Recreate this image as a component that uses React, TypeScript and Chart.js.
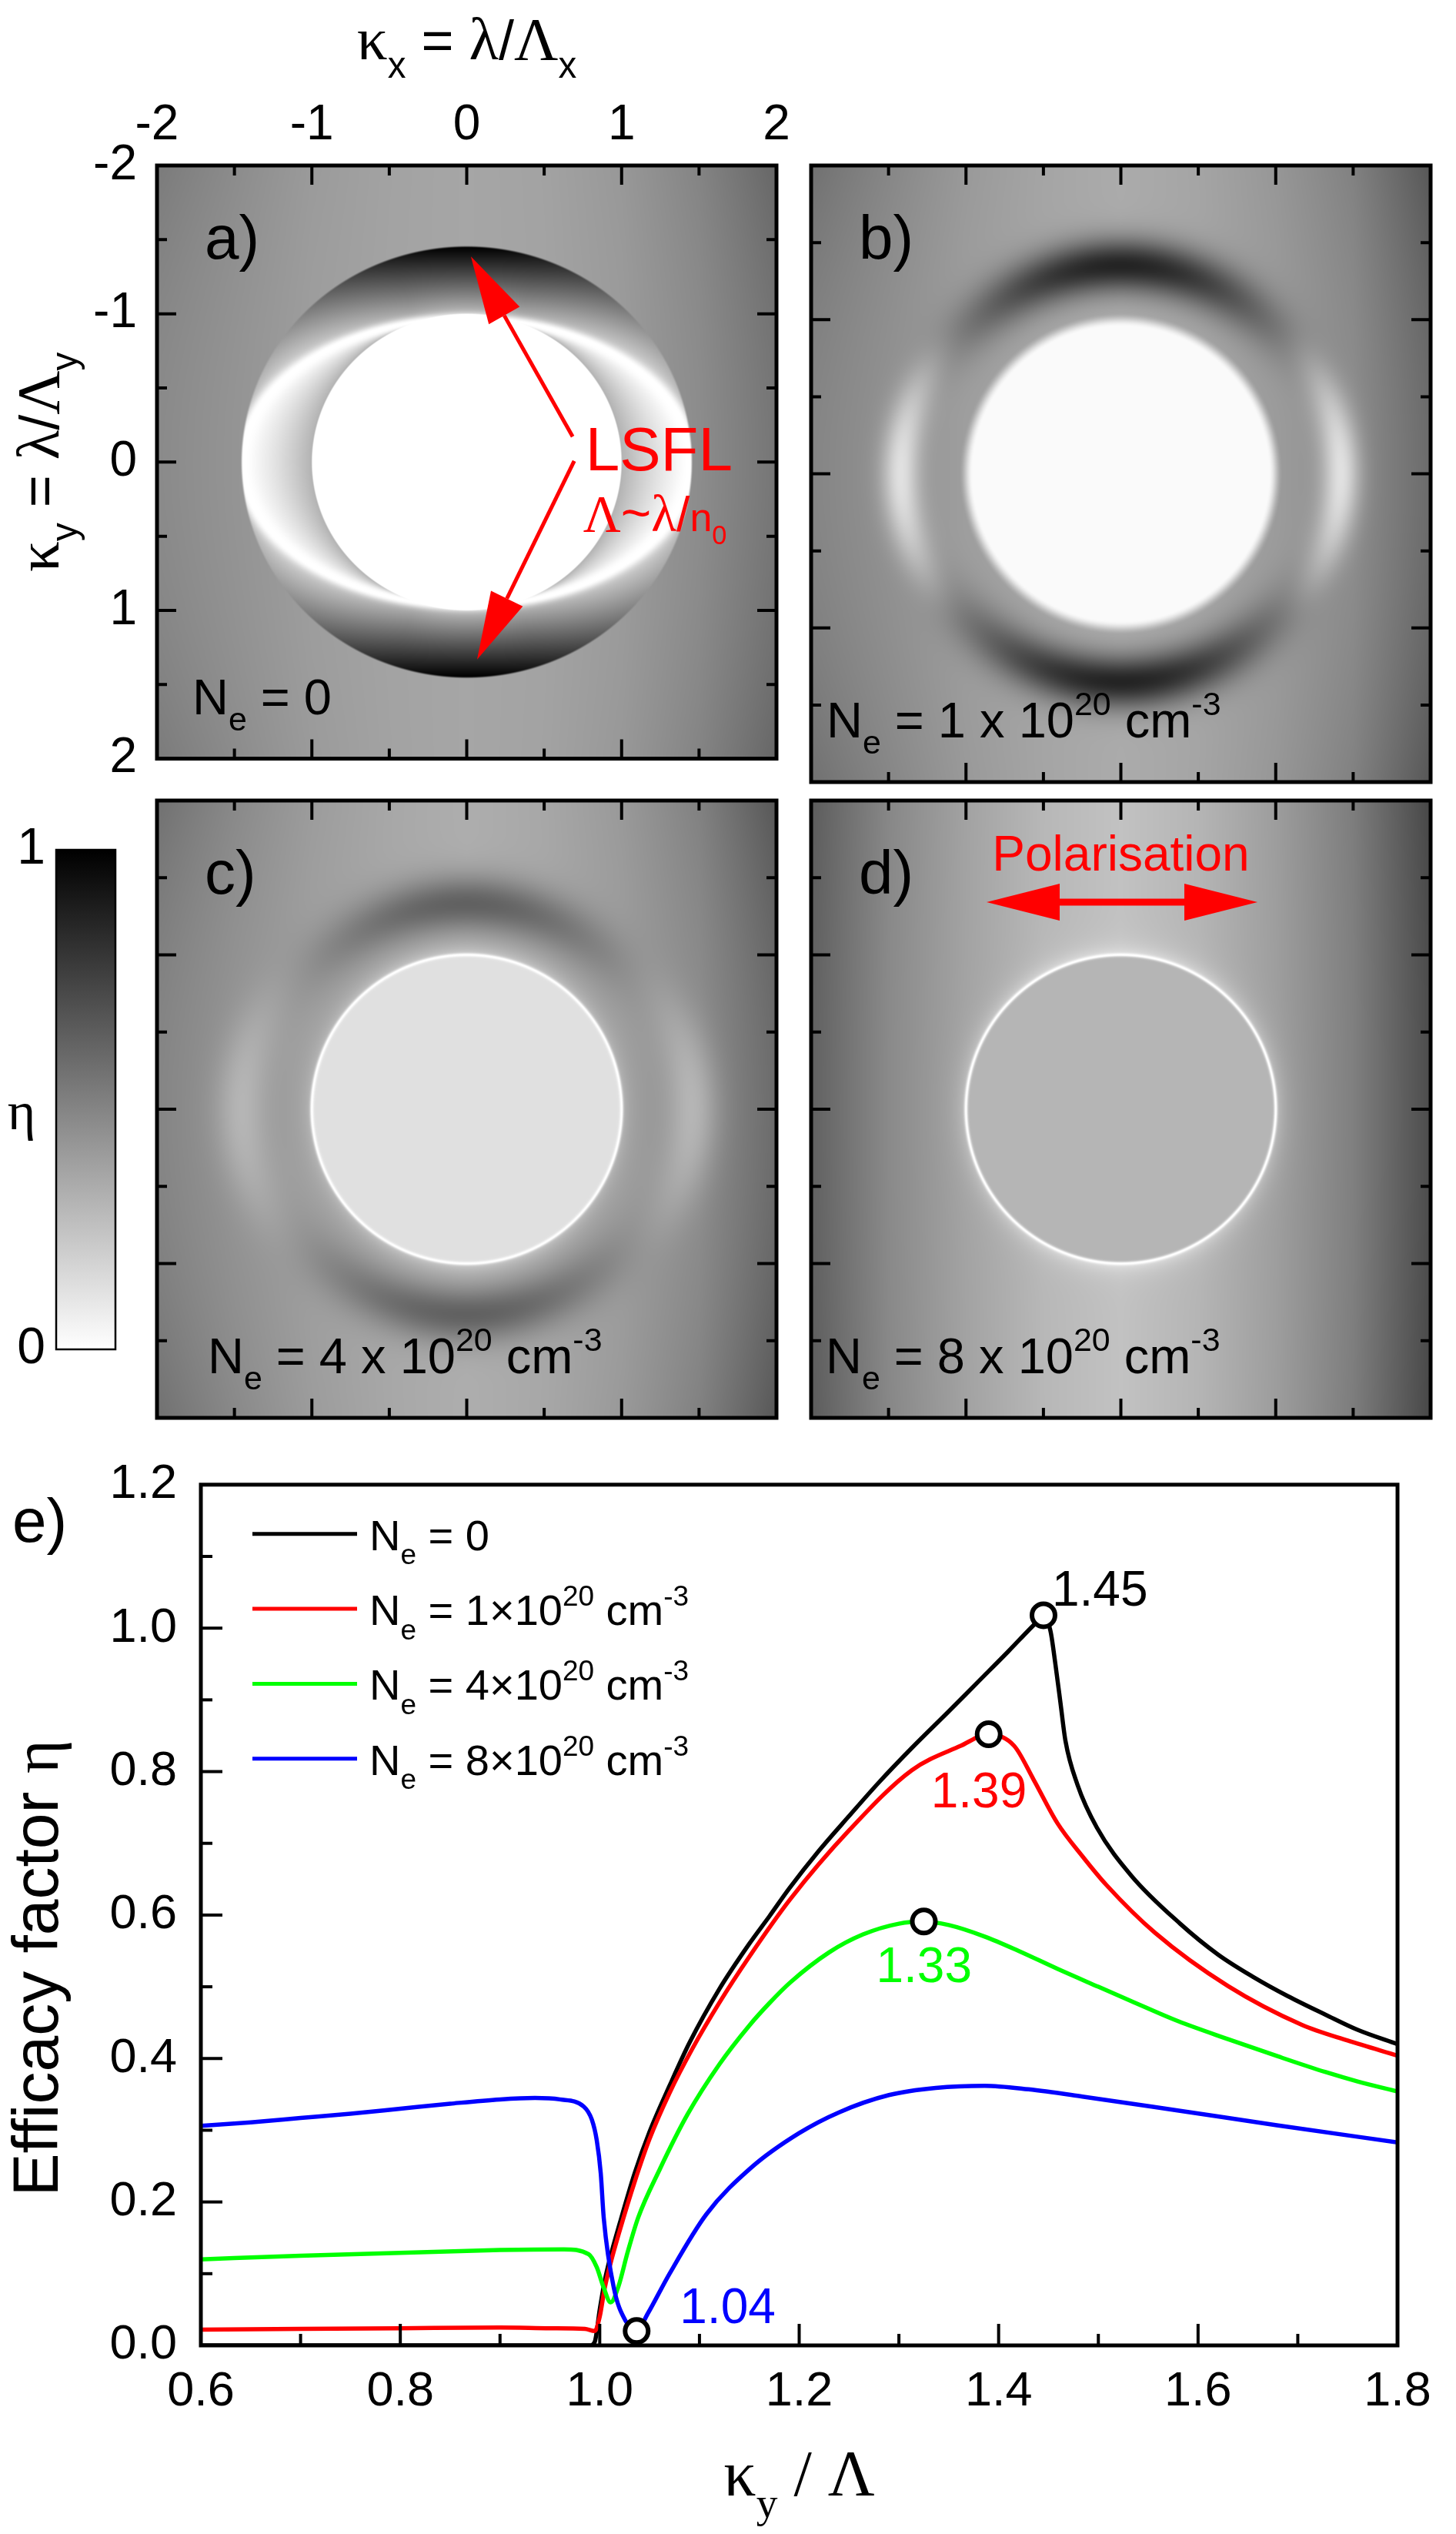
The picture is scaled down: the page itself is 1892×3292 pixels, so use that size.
import React, { useEffect, useRef } from 'react';
import { Chart, registerables } from 'chart.js';

Chart.register(...registerables);

const SANS = '"Liberation Sans", Arial, Helvetica, sans-serif';
const SERIF = '"Liberation Serif", "Times New Roman", serif';
Chart.defaults.font.family = SANS;
Chart.defaults.color = '#000';

// ---------------- Panel e: efficacy factor curves ----------------
const K_NE0 = [0.6, 0.7, 0.8, 0.9, 0.99, 0.995, 1.0, 1.005, 1.01, 1.02, 1.035, 1.05, 1.07, 1.09, 1.12, 1.15, 1.17, 1.19, 1.22, 1.25, 1.28, 1.313, 1.35, 1.38, 1.41, 1.43, 1.44, 1.445, 1.452, 1.457, 1.462, 1.467, 1.479, 1.4985, 1.533, 1.582, 1.62, 1.655, 1.69, 1.728, 1.76, 1.8];
const ETA_NE0 = [0, 0, 0, 0, 0, 0.005, 0.05, 0.09, 0.12, 0.17, 0.24, 0.298, 0.362, 0.422, 0.497, 0.56, 0.598, 0.637, 0.69, 0.738, 0.785, 0.833, 0.884, 0.926, 0.968, 0.997, 1.011, 1.018, 0.996, 0.949, 0.896, 0.843, 0.782, 0.722, 0.655, 0.588, 0.545, 0.514, 0.487, 0.461, 0.44, 0.42];

const K_NE1 = [0.6, 0.7, 0.8, 0.9, 0.95, 0.985, 0.995, 1.0, 1.005, 1.01, 1.02, 1.035, 1.05, 1.07, 1.093, 1.12, 1.15, 1.191, 1.25, 1.313, 1.362, 1.39, 1.4155, 1.435, 1.459, 1.484, 1.508, 1.557, 1.63, 1.704, 1.75, 1.8];
const ETA_NE1 = [0.022, 0.023, 0.024, 0.025, 0.024, 0.023, 0.02, 0.04, 0.08, 0.11, 0.16, 0.228, 0.288, 0.352, 0.414, 0.478, 0.542, 0.622, 0.718, 0.802, 0.836, 0.852, 0.836, 0.789, 0.728, 0.682, 0.642, 0.575, 0.501, 0.447, 0.425, 0.404];

const K_NE4 = [0.6, 0.7, 0.8, 0.9, 0.964, 0.989, 0.997, 1.0036, 1.011, 1.0187, 1.028, 1.0385, 1.06, 1.088, 1.12, 1.15, 1.17, 1.191, 1.23, 1.264, 1.3, 1.325, 1.35, 1.386, 1.42, 1.459, 1.5, 1.533, 1.58, 1.63, 1.68, 1.728, 1.76, 1.8];
const ETA_NE4 = [0.12, 0.125, 0.129, 0.133, 0.134, 0.127, 0.109, 0.082, 0.06, 0.082, 0.13, 0.178, 0.245, 0.322, 0.392, 0.446, 0.477, 0.506, 0.548, 0.573, 0.588, 0.591, 0.586, 0.57, 0.55, 0.525, 0.5, 0.48, 0.452, 0.427, 0.403, 0.381, 0.368, 0.354];

const K_NE8 = [0.6, 0.65, 0.7, 0.75, 0.8, 0.85, 0.9, 0.935, 0.96, 0.984, 0.992, 0.997, 1.001, 1.004, 1.014, 1.026, 1.037, 1.048, 1.07, 1.107, 1.152, 1.2, 1.24, 1.29, 1.337, 1.386, 1.43, 1.484, 1.582, 1.679, 1.8];
const ETA_NE8 = [0.306, 0.311, 0.317, 0.323, 0.33, 0.337, 0.343, 0.345, 0.343, 0.333, 0.315, 0.286, 0.24, 0.178, 0.081, 0.034, 0.02, 0.044, 0.1, 0.183, 0.248, 0.296, 0.325, 0.349, 0.359, 0.362, 0.357, 0.347, 0.327, 0.307, 0.283];

const SERIES_NE = ['0', '1', '4', '8'];
const SERIES_COLORS = ['#000000', '#ff0000', '#00ff00', '#0000ff'];

const PEAK_K = [1.445, 1.39, 1.325, 1.037];
const PEAK_ETA = [1.018, 0.852, 0.591, 0.02];
const PEAK_LABELS = ['1.45', '1.39', '1.33', '1.04'];

// ---------------- Panels a-d: efficacy maps (features) ----------------
const PANEL_LABELS = ['a)', 'b)', 'c)', 'd)'];
const PANEL_NE = ['0', '1', '4', '8'];
const HM_BG_KX = [0, 0.5, 1, 1.5, 2];
const HM_BG_LEFT = [
  [0.35, 0.36, 0.38, 0.42, 0.46],
  [0.33, 0.35, 0.38, 0.43, 0.48],
  [0.32, 0.34, 0.37, 0.42, 0.48],
  [0.24, 0.28, 0.36, 0.46, 0.62],
];
const HM_BG_RIGHT = [
  [0.35, 0.36, 0.39, 0.45, 0.54],
  [0.33, 0.35, 0.39, 0.45, 0.58],
  [0.32, 0.34, 0.38, 0.45, 0.58],
  [0.24, 0.29, 0.38, 0.5, 0.7],
];
const HM_BG_CORNER = [0.06, 0.08, 0.08, 0.02];
const HM_DISC_R = [1.0, 1.0, 1.0, 1.0];
const HM_DISC_ETA = [0.0, 0.02, 0.12, 0.29];
const HM_DISC_EDGE = [0.006, 0.045, 0.006, 0.006];
const HM_RIM = [0, 0, 1, 1];
const HM_RIM_W = [0.01, 0.01, 0.012, 0.012];
const HM_GLOW = [0, 0, 0.45, 0.55];
const HM_GLOW_LEN = [0.05, 0.05, 0.05, 0.06];
const HM_CRES_R = [1.45, 1.35, 1.33, 0];
const HM_CRES_W = [0, 0.17, 0.18, 0];
const HM_CRES_ETA = [1.0, 0.86, 0.62, 0];
const HM_CRES_SPREAD = [0, 75, 75, 0];
const HM_LOBE_R = [1.45, 1.42, 1.45, 0];
const HM_LOBE_W = [0.03, 0.12, 0.16, 0];
const HM_LOBE_ETA = [0, 0.12, 0.29, 0];
const HM_LOBE_SPREAD = [0, 45, 50, 0];
const HM_ELLIPSE = [1.45, 0.97];
const COLORBAR_ETA = [0, 1];

// ---------------- helpers ----------------
type Seg = { t: string; serif?: boolean; sub?: boolean; sup?: boolean; k?: number };

function drawRich(ctx: any, segs: Seg[], x: number, y: number, size: number, color: string, align = 'left') {
  ctx.save();
  ctx.fillStyle = color;
  ctx.textBaseline = 'alphabetic';
  ctx.textAlign = 'left';
  const fonts = segs.map((s) => {
    const sz = size * (s.k ?? 1) * (s.sub || s.sup ? 0.66 : 1);
    return `${sz}px ${s.serif ? SERIF : SANS}`;
  });
  let w = 0;
  segs.forEach((s, i) => {
    ctx.font = fonts[i];
    w += ctx.measureText(s.t).width;
  });
  let cx = align === 'center' ? x - w / 2 : align === 'right' ? x - w : x;
  segs.forEach((s, i) => {
    ctx.font = fonts[i];
    const dy = s.sub ? 0.33 * size : s.sup ? -0.45 * size : 0;
    ctx.fillText(s.t, cx, y + dy);
    cx += ctx.measureText(s.t).width;
  });
  ctx.restore();
}

function neSegs(v: string, times: string): Seg[] {
  if (v === '0') return [{ t: 'N' }, { t: 'e', sub: true }, { t: ' = 0' }];
  return [{ t: 'N' }, { t: 'e', sub: true }, { t: ` = ${v}${times}10` }, { t: '20', sup: true }, { t: ' cm' }, { t: '-3', sup: true }];
}

function interp(xs: number[], ys: number[], x: number) {
  if (x <= xs[0]) return ys[0];
  for (let i = 1; i < xs.length; i++) {
    if (x <= xs[i]) {
      const t = (x - xs[i - 1]) / (xs[i] - xs[i - 1]);
      return ys[i - 1] + t * (ys[i] - ys[i - 1]);
    }
  }
  return ys[ys.length - 1];
}

function smooth(a: number, b: number, x: number) {
  const t = Math.min(1, Math.max(0, (x - a) / (b - a)));
  return t * t * (3 - 2 * t);
}

function bgEta(p: number, kx: number, ky: number) {
  const base = interp(HM_BG_KX, kx < 0 ? HM_BG_LEFT[p] : HM_BG_RIGHT[p], Math.abs(kx));
  const cx = Math.min(1, Math.abs(kx) / 2);
  const cy = Math.min(1, Math.abs(ky) / 2);
  return base + HM_BG_CORNER[p] * cx * cx * cy * cy;
}

function etaA(kx: number, ky: number) {
  const bg = bgEta(0, kx, ky);
  const r = Math.hypot(kx, ky);
  const R0 = HM_DISC_R[0];
  const RO = HM_CRES_R[0];
  if (r < R0 - 0.006) return HM_DISC_ETA[0];
  const c = Math.abs(kx) / r;
  const s = Math.abs(ky) / r;
  const k = Math.sqrt((c / HM_ELLIPSE[0]) ** 2 + (s / HM_ELLIPSE[1]) ** 2);
  const q = r * k;
  let e: number;
  if (q <= 1) {
    const rout = 1 / k;
    const t = Math.min(1, Math.max(0, (r - R0) / Math.max(rout - R0, 1e-3)));
    e = 0.3 * Math.pow(1 - t, 1.3);
  } else {
    const rin = Math.max(R0, 1 / k);
    const t = Math.min(1, Math.max(0, (r - rin) / Math.max(RO - rin, 1e-3)));
    const peak = 0.25 + 0.75 * s * s * s;
    const base = 0.08 + 0.17 * s * s;
    e = base + (peak - base) * Math.pow(t, 0.9);
  }
  const d = q - 1;
  const g = Math.exp(-((d / (d > 0 ? 0.035 : 0.04)) ** 2));
  e *= 1 - g;
  e *= smooth(R0 - 0.006, R0 + 0.006, r);
  const wo = smooth(RO - 0.006, RO + 0.012, r);
  return e * (1 - wo) + bg * wo;
}

function etaGen(p: number, kx: number, ky: number) {
  let e = bgEta(p, kx, ky);
  const r = Math.hypot(kx, ky) || 1e-6;
  const phiV = (Math.atan2(Math.abs(kx), Math.abs(ky)) * 180) / Math.PI;
  const phiH = 90 - phiV;
  const s = Math.abs(ky) / r;
  if (HM_CRES_ETA[p] > 0) {
    const sp = HM_CRES_SPREAD[p];
    const wa = phiV < sp ? Math.cos(((Math.PI / 2) * phiV) / sp) ** 2 : 0;
    const wr = Math.exp(-(((r - HM_CRES_R[p]) / HM_CRES_W[p]) ** 2));
    e += (HM_CRES_ETA[p] - e) * wa * wr;
  }
  if (HM_LOBE_W[p] > 0) {
    const sp = HM_LOBE_SPREAD[p];
    const wa = phiH < sp ? Math.cos(((Math.PI / 2) * phiH) / sp) ** 2 : 0;
    const wr = Math.exp(-(((r - HM_LOBE_R[p]) / HM_LOBE_W[p]) ** 2));
    e += (HM_LOBE_ETA[p] - e) * wa * wr;
  }
  const R = HM_DISC_R[p];
  if (HM_GLOW[p] > 0 && r > R) {
    const gl = HM_GLOW[p] * (0.6 + 0.4 * s * s) * Math.exp(-(r - R) / HM_GLOW_LEN[p]);
    e *= 1 - gl;
  }
  const inside = 1 - smooth(R - HM_DISC_EDGE[p], R + HM_DISC_EDGE[p], r);
  e += (HM_DISC_ETA[p] - e) * inside;
  if (HM_RIM[p] > 0) {
    const rim = HM_RIM[p] * Math.exp(-(((r - R) / HM_RIM_W[p]) ** 2));
    e *= 1 - rim;
  }
  return e;
}

function arrowHead(ctx: any, x0: number, y0: number, x1: number, y1: number, len: number, half: number) {
  const a = Math.atan2(y1 - y0, x1 - x0);
  const bx = x1 - len * Math.cos(a);
  const by = y1 - len * Math.sin(a);
  ctx.beginPath();
  ctx.moveTo(x1, y1);
  ctx.lineTo(bx + half * Math.sin(a), by - half * Math.cos(a));
  ctx.lineTo(bx - half * Math.sin(a), by + half * Math.cos(a));
  ctx.closePath();
  ctx.fill();
  return [bx, by];
}

function minorValues(ticks: any[]) {
  const v = ticks.map((t: any) => t.value);
  const out: number[] = [];
  for (let i = 1; i < v.length; i++) out.push((v[i - 1] + v[i]) / 2);
  return out;
}

// ---------------- heatmap chart ----------------
const heatmapPlugin = (p: number) => ({
  id: 'heatmap',
  beforeDatasetsDraw(chart: any) {
    const { ctx, chartArea, scales } = chart;
    const x0 = Math.round(chartArea.left);
    const y0 = Math.round(chartArea.top);
    const w = Math.round(chartArea.right) - x0;
    const h = Math.round(chartArea.bottom) - y0;
    const img = ctx.createImageData(w, h);
    const kx = new Float64Array(w);
    const ky = new Float64Array(h);
    for (let i = 0; i < w; i++) kx[i] = scales.x.getValueForPixel(x0 + i + 0.5);
    for (let j = 0; j < h; j++) ky[j] = scales.y.getValueForPixel(y0 + j + 0.5);
    let o = 0;
    for (let j = 0; j < h; j++) {
      for (let i = 0; i < w; i++) {
        let e = p === 0 ? etaA(kx[i], ky[j]) : etaGen(p, kx[i], ky[j]);
        e = Math.min(1, Math.max(0, e));
        const g = Math.round(255 * (1 - e));
        img.data[o] = g;
        img.data[o + 1] = g;
        img.data[o + 2] = g;
        img.data[o + 3] = 255;
        o += 4;
      }
    }
    ctx.putImageData(img, x0, y0);
  },
});

const panelDecor = (p: number, neX: number) => ({
  id: 'panelDecor',
  afterDraw(chart: any) {
    const { ctx, chartArea, scales } = chart;
    const { left, top, right, bottom } = chartArea;
    const x = scales.x;
    const y = scales.y;
    ctx.save();
    ctx.strokeStyle = '#000';
    ctx.lineWidth = 4;
    const draw = (vals: number[], len: number) => {
      vals.forEach((v) => {
        if (v <= -2 || v >= 2) return;
        const px = x.getPixelForValue(v);
        const py = y.getPixelForValue(v);
        ctx.beginPath();
        ctx.moveTo(px, top); ctx.lineTo(px, top + len);
        ctx.moveTo(px, bottom); ctx.lineTo(px, bottom - len);
        ctx.moveTo(left, py); ctx.lineTo(left + len, py);
        ctx.moveTo(right, py); ctx.lineTo(right - len, py);
        ctx.stroke();
      });
    };
    draw(x.ticks.map((t: any) => t.value), 25);
    draw(minorValues(x.ticks), 13);
    ctx.lineWidth = 5;
    ctx.strokeRect(left, top, right - left, bottom - top);
    ctx.restore();

    drawRich(ctx, [{ t: PANEL_LABELS[p] }], left + 62, top + 121, 80, '#000');
    drawRich(ctx, neSegs(PANEL_NE[p], ' x '), left + neX, bottom - 58, 65, '#000');

    ctx.save();
    ctx.fillStyle = '#ff0000';
    ctx.strokeStyle = '#ff0000';
    if (p === 0) {
      const arrows = [
        [0.684, -0.172, 0.027, -1.386],
        [0.694, -0.007, 0.067, 1.331],
      ];
      arrows.forEach(([sx, sy, tx, ty]) => {
        const x0 = x.getPixelForValue(sx), y0 = y.getPixelForValue(sy);
        const x1 = x.getPixelForValue(tx), y1 = y.getPixelForValue(ty);
        const [bx, by] = arrowHead(ctx, x0, y0, x1, y1, 88, 23);
        ctx.lineWidth = 5;
        ctx.beginPath();
        ctx.moveTo(x0, y0);
        ctx.lineTo(bx, by);
        ctx.stroke();
      });
      drawRich(ctx, [{ t: 'LSFL' }], x.getPixelForValue(0.766), y.getPixelForValue(0.057), 80, '#ff0000');
      drawRich(
        ctx,
        [{ t: 'Λ', serif: true, k: 1.3 }, { t: '~', k: 1.3 }, { t: 'λ', serif: true, k: 1.3 }, { t: '/', k: 1.2 }, { t: 'n' }, { t: '0', sub: true }],
        x.getPixelForValue(0.752),
        y.getPixelForValue(0.467),
        52,
        '#ff0000'
      );
    }
    if (p === 3) {
      const yy = y.getPixelForValue(-1.342);
      const xa = x.getPixelForValue(-0.867);
      const xb = x.getPixelForValue(0.882);
      const [b1] = arrowHead(ctx, xb, yy, xa, yy, 95, 24);
      const [b2] = arrowHead(ctx, xa, yy, xb, yy, 95, 24);
      ctx.lineWidth = 9;
      ctx.beginPath();
      ctx.moveTo(b1, yy);
      ctx.lineTo(b2, yy);
      ctx.stroke();
      drawRich(ctx, [{ t: 'Polarisation' }], x.getPixelForValue(0), y.getPixelForValue(-1.546), 64, '#ff0000', 'center');
    }
    ctx.restore();

    if (p === 0) {
      drawRich(
        ctx,
        [{ t: 'κ', serif: true, k: 1.1 }, { t: 'x', sub: true }, { t: ' = ' }, { t: 'λ', serif: true, k: 1.1 }, { t: '/' }, { t: 'Λ', serif: true, k: 1.1 }, { t: 'x', sub: true }],
        (left + right) / 2,
        77,
        72,
        '#000',
        'center'
      );
      ctx.save();
      ctx.translate(76, (top + bottom) / 2);
      ctx.rotate(-Math.PI / 2);
      drawRich(
        ctx,
        [{ t: 'κ', serif: true, k: 1.1 }, { t: 'y', sub: true }, { t: ' = ' }, { t: 'λ', serif: true, k: 1.1 }, { t: '/' }, { t: 'Λ', serif: true, k: 1.1 }, { t: 'y', sub: true }],
        0,
        0,
        72,
        '#000',
        'center'
      );
      ctx.restore();
    }
  },
});

function makeHeatmap(canvas: HTMLCanvasElement, p: number, w: number, h: number, area: any, labels: boolean, neX: number) {
  return new Chart(canvas, {
    type: 'scatter',
    data: { datasets: [] },
    options: {
      animation: false,
      responsive: false,
      devicePixelRatio: 1,
      events: [],
      layout: { padding: { left: 0, top: 0, right: w - area.r, bottom: h - area.b } },
      plugins: { legend: { display: false }, tooltip: { enabled: false } },
      scales: {
        x: {
          type: 'linear',
          position: 'top',
          min: -2,
          max: 2,
          ticks: { stepSize: 1, display: labels, font: { size: 64, family: SANS }, color: '#000', padding: 13, maxRotation: 0 },
          grid: { display: false, drawTicks: false, tickLength: 0 },
          border: { display: false },
          afterFit: (s: any) => { s.height = area.t; },
        },
        y: {
          type: 'linear',
          position: 'left',
          reverse: true,
          min: -2,
          max: 2,
          ticks: { stepSize: 1, display: labels, font: { size: 64, family: SANS }, color: '#000', padding: 26 },
          grid: { display: false, drawTicks: false, tickLength: 0 },
          border: { display: false },
          afterFit: (s: any) => { s.width = area.l; },
        },
      },
    } as any,
    plugins: [heatmapPlugin(p), panelDecor(p, neX)],
  });
}

// ---------------- colorbar ----------------
const colorbarPlugin = {
  id: 'colorbar',
  beforeDatasetsDraw(chart: any) {
    const { ctx, chartArea, scales } = chart;
    const { left, right } = chartArea;
    const y = scales.y;
    const y0 = y.getPixelForValue(COLORBAR_ETA[0]);
    const y1 = y.getPixelForValue(COLORBAR_ETA[1]);
    const grad = ctx.createLinearGradient(0, y0, 0, y1);
    grad.addColorStop(0, '#ffffff');
    grad.addColorStop(1, '#000000');
    ctx.save();
    ctx.fillStyle = grad;
    ctx.fillRect(left, y1, right - left, y0 - y1);
    ctx.lineWidth = 2.5;
    ctx.strokeStyle = '#000';
    ctx.strokeRect(left, y1, right - left, y0 - y1);
    ctx.restore();
    drawRich(ctx, [{ t: 'η', serif: true }], 28, (y0 + y1) / 2 + 38, 70, '#000', 'center');
  },
};

function makeColorbar(canvas: HTMLCanvasElement, w: number, h: number, area: any) {
  return new Chart(canvas, {
    type: 'scatter',
    data: { datasets: [] },
    options: {
      animation: false,
      responsive: false,
      devicePixelRatio: 1,
      events: [],
      layout: { padding: { left: 0, top: area.t, right: w - area.r, bottom: h - area.b } },
      plugins: { legend: { display: false }, tooltip: { enabled: false } },
      scales: {
        x: { type: 'linear', display: false, min: 0, max: 1 },
        y: {
          type: 'linear',
          position: 'left',
          min: 0,
          max: 1,
          ticks: { stepSize: 1, font: { size: 66, family: SANS }, color: '#000', padding: 14, callback: (v: any) => String(v) },
          grid: { display: false, drawTicks: false, tickLength: 0 },
          border: { display: false },
          afterFit: (s: any) => { s.width = area.l; },
        },
      },
    } as any,
    plugins: [colorbarPlugin],
  });
}

// ---------------- panel e chart ----------------
const LABEL_DX = [11, -75, -62, 56];
const LABEL_DY = [-12, 95, 79, -10];

const eDecor = {
  id: 'eDecor',
  afterDraw(chart: any) {
    const { ctx, chartArea, scales } = chart;
    const { left, top, right, bottom } = chartArea;
    const x = scales.x;
    const y = scales.y;
    ctx.save();
    ctx.strokeStyle = '#000';
    ctx.lineWidth = 4;
    const xt = (vals: number[], len: number) =>
      vals.forEach((v) => {
        const px = x.getPixelForValue(v);
        if (px <= left + 1 || px >= right - 1) return;
        ctx.beginPath(); ctx.moveTo(px, bottom); ctx.lineTo(px, bottom - len); ctx.stroke();
      });
    const yt = (vals: number[], len: number) =>
      vals.forEach((v) => {
        const py = y.getPixelForValue(v);
        if (py <= top + 1 || py >= bottom - 1) return;
        ctx.beginPath(); ctx.moveTo(left, py); ctx.lineTo(left + len, py); ctx.stroke();
      });
    xt(x.ticks.map((t: any) => t.value), 28);
    xt(minorValues(x.ticks), 15);
    yt(y.ticks.map((t: any) => t.value), 28);
    yt(minorValues(y.ticks), 15);
    ctx.lineWidth = 5;
    ctx.strokeRect(left, top, right - left, bottom - top);
    ctx.restore();

    SERIES_NE.forEach((ne, i) => {
      const ry = top + 64 + i * 97.3;
      ctx.save();
      ctx.strokeStyle = SERIES_COLORS[i];
      ctx.lineWidth = 5;
      ctx.beginPath();
      ctx.moveTo(left + 67, ry);
      ctx.lineTo(left + 203, ry);
      ctx.stroke();
      ctx.restore();
      drawRich(ctx, neSegs(ne, '×'), left + 219, ry + 21, 56, '#000');
    });

    PEAK_LABELS.forEach((lab, i) => {
      const px = x.getPixelForValue(PEAK_K[i]);
      const py = y.getPixelForValue(PEAK_ETA[i]);
      drawRich(ctx, [{ t: lab }], px + LABEL_DX[i], py + LABEL_DY[i], 64, SERIES_COLORS[i]);
    });

    drawRich(ctx, [{ t: 'e)' }], 16, top + 74, 80, '#000');

    ctx.save();
    ctx.translate(75, top + 628);
    ctx.rotate(-Math.PI / 2);
    drawRich(ctx, [{ t: 'Efficacy factor ' }, { t: 'η', serif: true }], 0, 0, 84, '#000', 'center');
    ctx.restore();

    drawRich(
      ctx,
      [{ t: 'κ', serif: true }, { t: 'y', serif: true, sub: true }, { t: ' / Λ', serif: true }],
      (left + right) / 2,
      bottom + 195,
      84,
      '#000',
      'center'
    );
  },
};

function series(ks: number[], etas: number[]) {
  return ks.map((k, i) => ({ x: k, y: etas[i] }));
}

function makeLineChart(canvas: HTMLCanvasElement, w: number, h: number, area: any) {
  const lineDs = (label: string, ks: number[], etas: number[], color: string, order: number) => ({
    label,
    data: series(ks, etas),
    borderColor: color,
    backgroundColor: color,
    borderWidth: 5.5,
    pointRadius: 0,
    fill: false,
    order,
    cubicInterpolationMode: 'monotone',
  });
  return new Chart(canvas, {
    type: 'line',
    data: {
      datasets: [
        {
          label: 'peaks',
          data: series(PEAK_K, PEAK_ETA),
          showLine: false,
          pointRadius: 15,
          pointBorderWidth: 6,
          pointBackgroundColor: '#ffffff',
          pointBorderColor: '#000000',
          order: 0,
          clip: false,
        },
        lineDs('Ne = 8', K_NE8, ETA_NE8, SERIES_COLORS[3], 1),
        lineDs('Ne = 4', K_NE4, ETA_NE4, SERIES_COLORS[2], 2),
        lineDs('Ne = 1', K_NE1, ETA_NE1, SERIES_COLORS[1], 3),
        lineDs('Ne = 0', K_NE0, ETA_NE0, SERIES_COLORS[0], 4),
      ],
    },
    options: {
      animation: false,
      responsive: false,
      devicePixelRatio: 1,
      events: [],
      layout: { padding: { left: 0, top: area.t, right: w - area.r, bottom: 0 } },
      plugins: { legend: { display: false }, tooltip: { enabled: false } },
      scales: {
        x: {
          type: 'linear',
          min: 0.6,
          max: 1.8,
          ticks: { stepSize: 0.2, font: { size: 63, family: SANS }, color: '#000', padding: 23, maxRotation: 0, callback: (v: any) => Number(v).toFixed(1) },
          grid: { display: false, drawTicks: false, tickLength: 0 },
          border: { display: false },
          afterFit: (s: any) => { s.height = h - area.b; },
        },
        y: {
          type: 'linear',
          min: 0,
          max: 1.2,
          ticks: { stepSize: 0.2, font: { size: 63, family: SANS }, color: '#000', padding: 31, callback: (v: any) => Number(v).toFixed(1) },
          grid: { display: false, drawTicks: false, tickLength: 0 },
          border: { display: false },
          afterFit: (s: any) => { s.width = area.l; },
        },
      },
    } as any,
    plugins: [eDecor],
  });
}

// ---------------- React ----------------
function ChartBox({ left, top, width, height, make }: any) {
  const ref = useRef<HTMLCanvasElement>(null);
  useEffect(() => {
    const chart = make(ref.current as HTMLCanvasElement);
    return () => chart.destroy();
  }, []);
  return (
    <canvas
      ref={ref}
      width={width}
      height={height}
      style={{ position: 'absolute', left, top, width, height, display: 'block' }}
    />
  );
}

export default function App() {
  return (
    <div style={{ position: 'absolute', left: 0, top: 0, width: 1892, height: 3292, background: '#fff', overflow: 'hidden' }}>
      <ChartBox left={0} top={0} width={1040} height={1050}
        make={(c: HTMLCanvasElement) => makeHeatmap(c, 0, 1040, 1050, { l: 204, t: 215, r: 1009, b: 1016 }, true, 46)} />
      <ChartBox left={1040} top={0} width={852} height={1050}
        make={(c: HTMLCanvasElement) => makeHeatmap(c, 1, 852, 1050, { l: 14, t: 215, r: 819, b: 1016 }, false, 20)} />
      <ChartBox left={0} top={1030} width={170} height={830}
        make={(c: HTMLCanvasElement) => makeColorbar(c, 170, 830, { l: 73, t: 74, r: 150, b: 723 })} />
      <ChartBox left={160} top={1030} width={880} height={850}
        make={(c: HTMLCanvasElement) => makeHeatmap(c, 2, 880, 850, { l: 44, t: 10, r: 849, b: 812 }, false, 66)} />
      <ChartBox left={1040} top={1030} width={852} height={850}
        make={(c: HTMLCanvasElement) => makeHeatmap(c, 3, 852, 850, { l: 14, t: 10, r: 819, b: 812 }, false, 19)} />
      <ChartBox left={0} top={1860} width={1892} height={1432}
        make={(c: HTMLCanvasElement) => makeLineChart(c, 1892, 1432, { l: 261, t: 52, r: 1816, b: 1187 })} />
    </div>
  );
}
